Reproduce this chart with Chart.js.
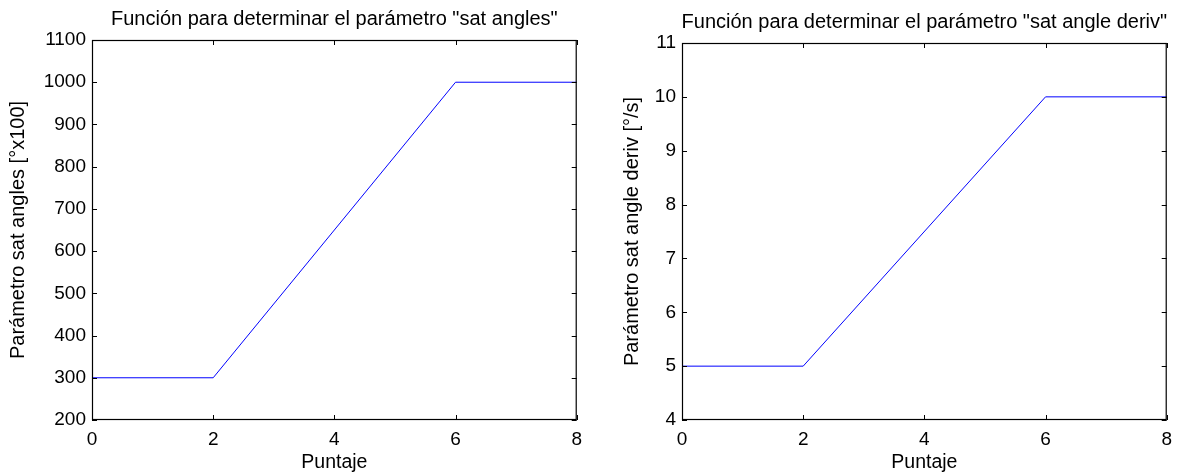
<!DOCTYPE html>
<html lang="es">
<head>
  <meta charset="UTF-8">
  <title>Funciones sat angles</title>
  <style>
    body { margin: 0; background: #ffffff; }
    .panel { position: absolute; top: 0; width: 590px; height: 474px; }
  </style>
</head>
<body>
  <div class="panel" style="left:0"><canvas id="chartAngles" width="590" height="474"></canvas></div>
  <div class="panel" style="left:590px"><canvas id="chartDeriv" width="590" height="474"></canvas></div>

  <script src="https://cdn.jsdelivr.net/npm/chart.js"></script>
  <script>
    // datos
    const puntaje = [0, 2, 6, 8];
    const satAngles = [300, 300, 1000, 1000];
    const satAngleDeriv = [5, 5, 10, 10];
    const xTicks = [0, 2, 4, 6, 8];
    const anglesTicks = [200, 300, 400, 500, 600, 700, 800, 900, 1000, 1100];
    const derivTicks = [4, 5, 6, 7, 8, 9, 10, 11];

    const FONT = '"Liberation Sans", Arial, sans-serif';
    Chart.defaults.font.family = FONT;
    Chart.defaults.color = '#000';

    // caja tipo MATLAB con marcas hacia dentro y título centrado sobre los ejes
    const boxPlugin = {
      id: 'matlabBox',
      afterDraw(chart, args, opts) {
        const { ctx, chartArea: a, scales } = chart;
        const len = 5;
        ctx.save();
        ctx.strokeStyle = '#000';
        ctx.lineWidth = 1;
        ctx.beginPath();
        scales.x.ticks.forEach(t => {
          const px = Math.round(scales.x.getPixelForValue(t.value)) + 0.5;
          ctx.moveTo(px, a.bottom); ctx.lineTo(px, a.bottom - len);
          ctx.moveTo(px, a.top); ctx.lineTo(px, a.top + len);
        });
        scales.y.ticks.forEach(t => {
          const py = Math.round(scales.y.getPixelForValue(t.value)) + 0.5;
          ctx.moveTo(a.left, py); ctx.lineTo(a.left + len, py);
          ctx.moveTo(a.right, py); ctx.lineTo(a.right - len, py);
        });
        ctx.stroke();
        ctx.lineWidth = 1.2;
        ctx.strokeRect(a.left + 0.5, a.top + 0.5, a.right - a.left - 1, a.bottom - a.top - 1);

        ctx.fillStyle = '#000';
        ctx.font = '20px ' + FONT;
        ctx.textAlign = 'center';
        ctx.textBaseline = 'alphabetic';
        ctx.fillText(opts.text, (a.left + a.right) / 2, opts.baseline);
        ctx.restore();
      }
    };

    function makeChart(id, values, yTicks, title, yTitle, padLeft, top, baseline) {
      new Chart(document.getElementById(id), {
        type: 'line',
        data: {
          datasets: [{
            data: puntaje.map((x, i) => ({ x: x, y: values[i] })),
            borderColor: '#0000ff',
            borderWidth: 1,
            pointRadius: 0,
            tension: 0
          }]
        },
        options: {
          responsive: false,
          animation: false,
          layout: { padding: { left: padLeft, right: 10, top: top, bottom: 0 } },
          plugins: {
            legend: { display: false },
            tooltip: { enabled: false },
            title: { display: false },
            matlabBox: { text: title, baseline: baseline }
          },
          scales: {
            x: {
              type: 'linear',
              min: xTicks[0],
              max: xTicks[xTicks.length - 1],
              afterBuildTicks: s => { s.ticks = xTicks.map(v => ({ value: v })); },
              afterFit: s => { s.height = 474 - 420; },
              grid: { display: false, drawTicks: false },
              border: { display: false },
              ticks: { font: { size: 19 }, padding: 8, maxRotation: 0, callback: v => String(v) },
              title: { display: true, text: 'Puntaje', font: { size: 19.5 }, padding: { top: 5, bottom: 0 } }
            },
            y: {
              type: 'linear',
              min: yTicks[0],
              max: yTicks[yTicks.length - 1],
              afterBuildTicks: s => { s.ticks = yTicks.map(v => ({ value: v })); },
              afterFit: s => { s.width = 92 - padLeft; },
              grid: { display: false, drawTicks: false },
              border: { display: false },
              ticks: { font: { size: 19 }, padding: 6, callback: v => String(v) },
              title: { display: true, text: yTitle, font: { size: 20 }, padding: { top: 6, bottom: 0 } }
            }
          }
        },
        plugins: [boxPlugin]
      });
    }

    makeChart('chartAngles', satAngles, anglesTicks,
      'Función para determinar el parámetro "sat angles"', 'Parámetro sat angles [°x100]', 0, 40, 25);
    makeChart('chartDeriv', satAngleDeriv, derivTicks,
      'Función para determinar el parámetro "sat angle deriv"', 'Parámetro sat angle deriv [°/s]', 24, 43, 28);
  </script>
</body>
</html>
